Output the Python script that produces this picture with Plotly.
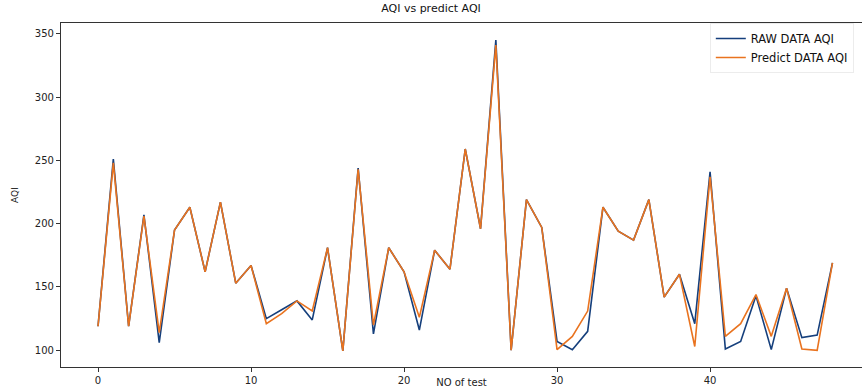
import plotly.graph_objects as go

test_no = list(range(49))
raw_aqi = [119, 251, 119, 207, 106, 195, 213, 162, 217, 153,
           167, 125, 132, 139, 124, 181, 99.5, 244, 113, 181,
           162, 116, 179, 164, 259, 196, 345, 100, 219, 197,
           107, 100.5, 115, 213, 194, 187, 219, 142, 160, 121,
           241, 101, 107, 143, 100.5, 149, 110, 112, 169]
pred_aqi = [119, 248, 119, 206, 114, 195, 213, 162, 217, 153,
            167, 121, 129, 139, 131, 181, 99.5, 243, 120, 181,
            162, 126, 179, 164, 259, 196, 341, 100, 219, 197,
            100.5, 111, 131, 213, 194, 187, 219, 142, 160, 103,
            237, 111, 121, 144, 111, 149, 101, 100, 169]

x_ticks = [0, 10, 20, 30, 40, 50]
y_ticks = [100, 150, 200, 250, 300, 350]

fig = go.Figure()
fig.add_trace(go.Scatter(x=test_no, y=raw_aqi, mode="lines", name="RAW DATA AQI",
                         line=dict(color="#153f7c", width=1.6)))
fig.add_trace(go.Scatter(x=test_no, y=pred_aqi, mode="lines", name="Predict DATA AQI",
                         line=dict(color="#e9731f", width=1.6)))

font = "DejaVu Sans"
fig.update_layout(
    width=862, height=388,
    margin=dict(l=61, r=0, t=23, b=21),
    paper_bgcolor="white", plot_bgcolor="white",
    font=dict(family=font, size=10, color="#222"),
    title=dict(text="AQI vs predict AQI", x=0.5, xanchor="center", y=0.99, yanchor="top",
               font=dict(family=font, size=11, color="#111")),
    showlegend=True,
    legend=dict(x=0.81, y=1.0, xanchor="left", yanchor="top",
                bgcolor="rgba(255,255,255,0.9)", bordercolor="#ececec", borderwidth=1,
                font=dict(family=font, size=11.5, color="#111"),
                tracegroupgap=0, itemwidth=30),
)
fig.update_xaxes(range=[-2.42, 49.93], tickvals=x_ticks, ticks="outside", ticklen=4,
                 tickcolor="#333", showgrid=False, zeroline=False,
                 showline=True, linecolor="#333", linewidth=1.2, mirror=True,
                 title=dict(text="NO of test", standoff=8, font=dict(family=font, size=10)),
                 automargin=False)
fig.update_yaxes(range=[86.8, 358.5], tickvals=y_ticks, ticks="outside", ticklen=4,
                 tickcolor="#333", showgrid=False, zeroline=False,
                 showline=True, linecolor="#333", linewidth=1.2,
                 title=dict(text="AQI", standoff=14, font=dict(family=font, size=9)),
                 automargin=False)

fig.write_html("out.html", config={"displayModeBar": False},
               post_script="document.body.style.margin='0';document.body.style.overflow='hidden';")
